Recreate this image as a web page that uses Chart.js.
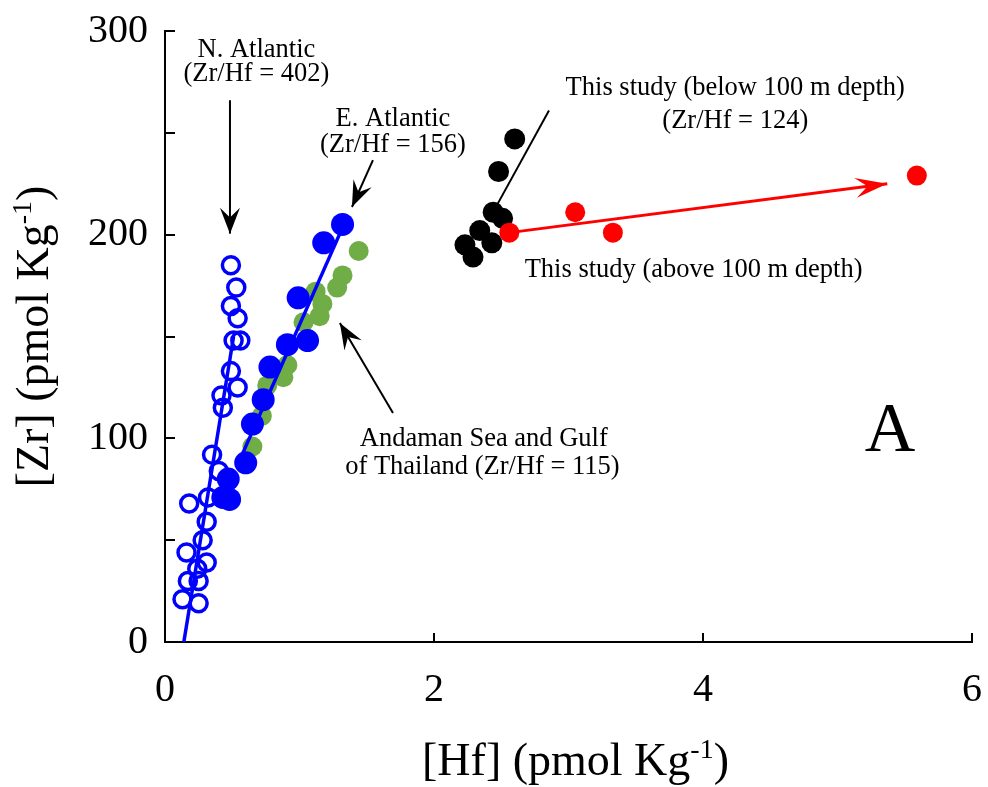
<!DOCTYPE html>
<html>
<head>
<meta charset="utf-8">
<title>[Zr] vs [Hf]</title>
<script src="https://cdn.jsdelivr.net/npm/chart.js@4.4.1/dist/chart.umd.min.js"></script>
<style>
  html, body { margin:0; padding:0; background:#fff; }
  #wrap { position:relative; width:988px; height:787px; }
</style>
</head>
<body>
<div id="wrap"><canvas id="chart"></canvas></div>
<script>
// values: [Hf] on x, [Zr] on y (pmol/kg)
const naHf = [0.49, 0.53, 0.49, 0.54, 0.51, 0.56, 0.49, 0.54, 0.42, 0.43, 0.35, 0.40, 0.18, 0.32, 0.31, 0.28, 0.16, 0.31, 0.24, 0.17, 0.25, 0.13, 0.25];
const naZr = [185, 174, 165, 159, 148, 148, 133, 125, 121, 115, 92, 84, 68, 71, 59, 50, 44, 39, 36, 30, 30, 21, 19];

const eaHf = [1.32, 1.18, 0.99, 1.06, 0.91, 0.78, 0.73, 0.65, 0.60, 0.47, 0.48, 0.43];
const eaZr = [205, 196, 169, 148, 146, 135, 119, 107, 88, 80, 70, 71];

const anHf = [1.44, 1.32, 1.28, 1.12, 1.17, 1.15, 1.03, 0.91, 0.88, 0.76, 0.72, 0.65];
const anZr = [192, 180, 174, 172, 166, 160, 157, 136, 130, 126, 111, 96];

const belowHf = [2.60, 2.48, 2.44, 2.51, 2.34, 2.23, 2.43, 2.29];
const belowZr = [247, 231, 211, 208, 202, 195, 196, 189];

const aboveHf = [2.56, 3.05, 3.33, 5.59];
const aboveZr = [201, 211, 201, 229];

// fitted lines / trend arrow, endpoints as drawn
const naFitHf = [0.14, 0.51];
const naFitZr = [0, 150];
const eaFitHf = [0.58, 1.35];
const eaFitZr = [93, 208];
const trendHf = [2.56, 5.37];
const trendZr = [201, 225];

const xTicks = [0, 2, 4, 6];
const yTicks = [0, 100, 200, 300];

const SERIF = '"Liberation Serif", "Times New Roman", serif';
const BLUE = '#0000ff', GREEN = '#70ad47', RED = '#ff0000';

const pts = (xs, ys) => xs.map((x, i) => ({ x: x, y: ys[i] }));

// annotation text + pointer arrows, in data units
const notes = [
  { x: 0.68, y: 290.5, t: 'N. Atlantic' },
  { x: 0.68, y: 279, t: '(Zr/Hf = 402)' },
  { x: 1.695, y: 257, t: 'E. Atlantic' },
  { x: 1.695, y: 244, t: '(Zr/Hf = 156)' },
  { x: 4.24, y: 272, t: 'This study (below 100 m depth)' },
  { x: 4.24, y: 256, t: '(Zr/Hf = 124)' },
  { x: 3.93, y: 182.5, t: 'This study (above 100 m depth)' },
  { x: 2.37, y: 99.7, t: 'Andaman Sea and Gulf' },
  { x: 2.36, y: 86, t: 'of Thailand (Zr/Hf = 115)' }
];
const pointers = [
  { from: [0.483, 266], to: [0.483, 200.5], head: true },
  { from: [1.546, 236.6], to: [1.39, 213.6], head: true },
  { from: [1.695, 112.4], to: [1.30, 156.6], head: true },
  { from: [2.855, 261], to: [2.468, 214.5], head: false }
];

function arrowHead(ctx, x1, y1, x2, y2, len, half) {
  const a = Math.atan2(y2 - y1, x2 - x1), c = Math.cos(a), s = Math.sin(a);
  ctx.beginPath();
  ctx.moveTo(x2, y2);
  ctx.lineTo(x2 - c * len - s * half, y2 - s * len + c * half);
  ctx.lineTo(x2 - c * len * 0.62, y2 - s * len * 0.62);
  ctx.lineTo(x2 - c * len + s * half, y2 - s * len - c * half);
  ctx.closePath();
  ctx.fill();
}

// text with a "-1" superscript, centred on (0,0) of the current transform
function unitLabel(ctx, pre, sup, post, size) {
  const small = Math.round(size * 0.6);
  ctx.font = size + 'px ' + SERIF;
  const w1 = ctx.measureText(pre).width, w3 = ctx.measureText(post).width;
  ctx.font = small + 'px ' + SERIF;
  const w2 = ctx.measureText(sup).width;
  let x = -(w1 + w2 + w3) / 2;
  ctx.textAlign = 'left'; ctx.textBaseline = 'alphabetic';
  ctx.font = size + 'px ' + SERIF; ctx.fillText(pre, x, size * 0.33); x += w1;
  ctx.font = small + 'px ' + SERIF; ctx.fillText(sup, x, size * 0.33 - size * 0.38); x += w2;
  ctx.font = size + 'px ' + SERIF; ctx.fillText(post, x, size * 0.33);
}

const inwardTicks = {
  id: 'inwardTicks',
  beforeDatasetsDraw(chart) {
    const { ctx, chartArea: a, scales: { x, y } } = chart;
    ctx.save();
    ctx.strokeStyle = '#000'; ctx.lineWidth = 2;
    x.ticks.forEach(t => {
      const px = Math.round(x.getPixelForValue(t.value));
      ctx.beginPath(); ctx.moveTo(px, a.bottom + 1); ctx.lineTo(px, a.bottom - 9); ctx.stroke();
    });
    y.ticks.forEach(t => {
      const py = Math.round(y.getPixelForValue(t.value));
      ctx.beginPath(); ctx.moveTo(a.left - 1, py); ctx.lineTo(a.left + 10, py); ctx.stroke();
    });
    ctx.restore();
  }
};

const annotations = {
  id: 'annotations',
  afterDatasetsDraw(chart) {
    const { ctx, chartArea: a, scales: { x, y } } = chart;
    ctx.save();
    ctx.fillStyle = '#000'; ctx.strokeStyle = '#000';
    ctx.font = '26.5px ' + SERIF;
    ctx.textAlign = 'center'; ctx.textBaseline = 'middle';
    notes.forEach(n => ctx.fillText(n.t, x.getPixelForValue(n.x), y.getPixelForValue(n.y)));

    ctx.lineWidth = 2;
    pointers.forEach(p => {
      const x1 = x.getPixelForValue(p.from[0]), y1 = y.getPixelForValue(p.from[1]);
      const x2 = x.getPixelForValue(p.to[0]), y2 = y.getPixelForValue(p.to[1]);
      ctx.beginPath(); ctx.moveTo(x1, y1); ctx.lineTo(x2, y2); ctx.stroke();
      if (p.head) arrowHead(ctx, x1, y1, x2, y2, 26, 10);
    });

    // arrowhead on the red trend line
    const tr = chart.getDatasetMeta(3).data;
    ctx.fillStyle = RED;
    arrowHead(ctx, tr[0].x, tr[0].y, tr[1].x, tr[1].y, 32, 10);

    // panel letter
    ctx.fillStyle = '#000';
    ctx.font = '70px ' + SERIF;
    ctx.fillText('A', x.getPixelForValue(5.39), y.getPixelForValue(103));

    // axis titles
    ctx.save();
    ctx.translate((a.left + a.right) / 2 + 7, a.bottom + 118);
    unitLabel(ctx, '[Hf] (pmol Kg', '-1', ')', 46);
    ctx.restore();
    ctx.save();
    ctx.translate(33, (a.top + a.bottom) / 2);
    ctx.rotate(-Math.PI / 2);
    unitLabel(ctx, '[Zr] (pmol Kg', '-1', ')', 46);
    ctx.restore();
    ctx.restore();
  }
};

const tickFont = { family: SERIF, size: 40 };

new Chart(document.getElementById('chart'), {
  type: 'scatter',
  data: {
    datasets: [
      // listed top-most first (chart.js paints index 0 last)
      { data: pts(naFitHf, naFitZr), showLine: true, borderColor: BLUE, borderWidth: 3.5, pointRadius: 0 },
      { data: pts(eaFitHf, eaFitZr), showLine: true, borderColor: BLUE, borderWidth: 3.5, pointRadius: 0 },
      { data: pts(naHf, naZr), pointRadius: 8.5, borderWidth: 3.5, borderColor: BLUE, backgroundColor: 'rgba(0,0,0,0)' },
      { data: pts(trendHf, trendZr), showLine: true, borderColor: RED, borderWidth: 3, pointRadius: 0 },
      { data: pts(aboveHf, aboveZr), pointRadius: 10, borderWidth: 0, backgroundColor: RED },
      { data: pts(belowHf, belowZr), pointRadius: 10.5, borderWidth: 0, backgroundColor: '#000' },
      { data: pts(eaHf, eaZr), pointRadius: 11.5, borderWidth: 0, backgroundColor: BLUE },
      { data: pts(anHf, anZr), pointRadius: 10, borderWidth: 0, backgroundColor: GREEN }
    ]
  },
  options: {
    responsive: true,
    maintainAspectRatio: false,
    animation: false,
    events: [],
    layout: { padding: { top: 31, right: 16, bottom: 0, left: 0 } },
    plugins: { legend: { display: false }, tooltip: { enabled: false } },
    scales: {
      x: {
        type: 'linear', min: 0, max: 6,
        afterBuildTicks: s => { s.ticks = xTicks.map(v => ({ value: v })); },
        ticks: { font: tickFont, color: '#000', padding: 24, maxRotation: 0 },
        grid: { display: false, drawTicks: false },
        border: { display: true, color: '#000', width: 2 },
        // fixed box; edge labels may overhang, the layout padding covers them
        afterFit: s => { s.height = 145; s.paddingLeft = 0; s.paddingRight = 0; }
      },
      y: {
        type: 'linear', min: 0, max: 300,
        ticks: { stepSize: 50, font: tickFont, color: '#000', padding: 17,
                 callback: v => (yTicks.includes(v) ? v : '') },
        grid: { display: false, drawTicks: false },
        border: { display: true, color: '#000', width: 2 },
        afterFit: s => { s.width = 165; s.paddingTop = 0; s.paddingBottom = 0; }
      }
    }
  },
  plugins: [inwardTicks, annotations]
});
</script>
</body>
</html>
